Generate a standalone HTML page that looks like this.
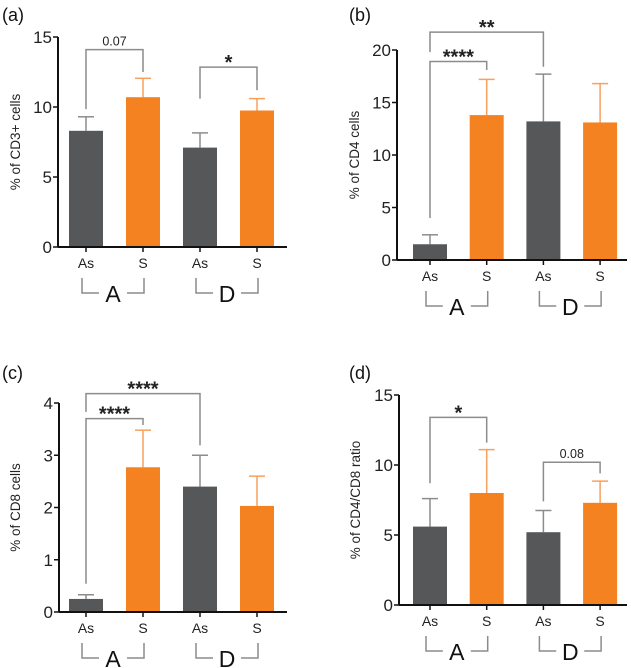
<!DOCTYPE html>
<html><head><meta charset="utf-8"><style>
html,body{margin:0;padding:0;background:#fff;}
svg{display:block;font-family:"Liberation Sans",Arial,sans-serif;}
</style></head><body>
<svg id="fig" width="631" height="668" viewBox="0 0 631 668"></svg>
<script>
const categories = ["As","S","As","S"];
const groups = ["A","D"];
const aMeans = [8.3,10.7,7.1,9.75];
const aErr = [1.0,1.35,1.05,0.85];
const bMeans = [1.5,13.8,13.2,13.1];
const bErr = [0.9,3.4,4.5,3.7];
const cMeans = [0.25,2.77,2.4,2.03];
const cErr = [0.08,0.71,0.6,0.57];
const dMeans = [5.6,8.0,5.2,7.3];
const dErr = [2.0,3.1,1.55,1.55];
const aTicks = [0,5,10,15];
const bTicks = [0,5,10,15,20];
const cTicks = [0,1,2,3,4];
const dTicks = [0,5,10,15];
// significance brackets: [from bar, to bar, y, leftEnd, rightEnd, label]
const aSig = [[0,1,14.1,9.85,12.5,"0.07"],[2,3,12.85,10.6,11.2,"*"]];
const bSig = [[0,2,21.7,19.8,18.4,"**"],[0,1,18.9,4.0,18.1,"****"]];
const cSig = [[0,2,4.18,3.83,3.19,"****"],[0,1,3.7,0.54,3.58,"****"]];
const dSig = [[0,1,13.4,8.7,11.6,"*"],[2,3,10.2,7.4,9.4,"0.08"]];

const NS="http://www.w3.org/2000/svg";
const svg=document.getElementById('fig');
function mk(tag,attrs,parent,text){const e=document.createElementNS(NS,tag);for(const k in attrs)e.setAttribute(k,attrs[k]);if(text!==undefined)e.textContent=text;(parent||svg).appendChild(e);return e;}

function panel(opt){
  const g=mk('g',{});
  
  
  const x0=opt.ax, y0=opt.y0, yTop=opt.yTop, max=opt.max;
  const ys=v=>y0-(v/max)*(y0-yTop);
  const xc=i=>opt.bx0+i*opt.step;
  const bw=34;
  const lab=mk('text',{x:opt.lx,y:opt.ly,'font-size':18,fill:'#111'},g,'('+opt.id+')');
  
  
  opt.means.forEach((m,i)=>{
    const orange=i%2===1;
    const top=ys(m+opt.err[i]);
    const ec=orange?'#f7a060':'#8c8c8c';
    const el=mk('line',{x1:xc(i),x2:xc(i),y1:ys(m),y2:top,stroke:ec,'stroke-width':1.5},g);
    
    
    mk('line',{x1:xc(i)-8,x2:xc(i)+8,y1:top,y2:top,stroke:ec,'stroke-width':1.5},g);
    const r=mk('rect',{x:xc(i)-bw/2,y:ys(m),width:bw,height:y0-ys(m),fill:orange?'#f58220':'#555759'},g);
    
    
    mk('line',{x1:xc(i),x2:xc(i),y1:y0,y2:y0+5,stroke:'#111','stroke-width':1.5},g);
    const t=mk('text',{x:xc(i),y:y0+21,'font-size':14,'text-anchor':'middle',fill:'#222'},g,categories[i]);
    
    
  });
  mk('line',{x1:x0,x2:x0,y1:yTop,y2:y0,stroke:'#111','stroke-width':2},g);
  const xa=mk('line',{x1:x0,x2:opt.axEnd,y1:y0,y2:y0,stroke:'#111','stroke-width':2},g);
  
  
  opt.ticks.forEach(v=>{
    mk('line',{x1:x0-5,x2:x0,y1:ys(v),y2:ys(v),stroke:'#111','stroke-width':1.5},g);
    const t=mk('text',{x:x0-6,y:ys(v)+6,'font-size':17,'text-anchor':'end',fill:'#222'},g,String(v));
    
    
  });
  const yt=mk('text',{x:0,y:0,'font-size':13.5,'text-anchor':'middle',fill:'#222',transform:`translate(${opt.ytx},${(yTop+y0)/2}) rotate(-90)`},g,opt.ytitle);
  
  
  opt.sig.forEach(s=>{
    const xa=xc(s[0]), xb=xc(s[1]), yy=ys(s[2]);
    const p=mk('path',{d:`M${xa},${ys(s[3])}V${yy}H${xb}V${ys(s[4])}`,fill:'none',stroke:'#8c8c8c','stroke-width':1.5},g);
    
    
    const star=s[5].indexOf('*')>=0;
    const t=mk('text',{x:(xa+xb)/2,y:yy+(star?2:-4),'font-size':star?20:12.5,'font-weight':star?'bold':'normal','text-anchor':'middle',fill:'#222'},g,s[5]);
    
    
  });
  groups.forEach((gname,k)=>{
    const xl=xc(2*k)-4, xr=xc(2*k+1)+1, yt0=y0+31, yb=y0+46, mid=(xl+xr)/2;
    const p=mk('path',{d:`M${xl},${yt0}V${yb}H${mid-14}M${mid+14},${yb}H${xr}V${yt0}`,fill:'none',stroke:'#8c8c8c','stroke-width':1.5},g);
    
    
    const t=mk('text',{x:mid,y:yb+9,'font-size':23,'text-anchor':'middle',fill:'#111'},g,gname);
    
    
  });
}
panel({id:'a',ax:58,axEnd:287,y0:247,yTop:37,max:15,bx0:86,step:57,means:aMeans,err:aErr,ticks:aTicks,sig:aSig,ytitle:'% of CD3+ cells',ytx:20,lx:2,ly:21});
panel({id:'b',ax:397,axEnd:627,y0:260,yTop:50,max:20,bx0:430,step:56.7,means:bMeans,err:bErr,ticks:bTicks,sig:bSig,ytitle:'% of CD4 cells',ytx:359,lx:349,ly:21});
panel({id:'c',ax:59,axEnd:287,y0:612,yTop:403,max:4,bx0:86,step:57,means:cMeans,err:cErr,ticks:cTicks,sig:cSig,ytitle:'% of CD8 cells',ytx:20,lx:2,ly:379});
panel({id:'d',ax:399,axEnd:627,y0:605,yTop:395,max:15,bx0:430,step:56.7,means:dMeans,err:dErr,ticks:dTicks,sig:dSig,ytitle:'% of CD4/CD8 ratio',ytx:360,lx:349,ly:379});
</script>
</body></html>
